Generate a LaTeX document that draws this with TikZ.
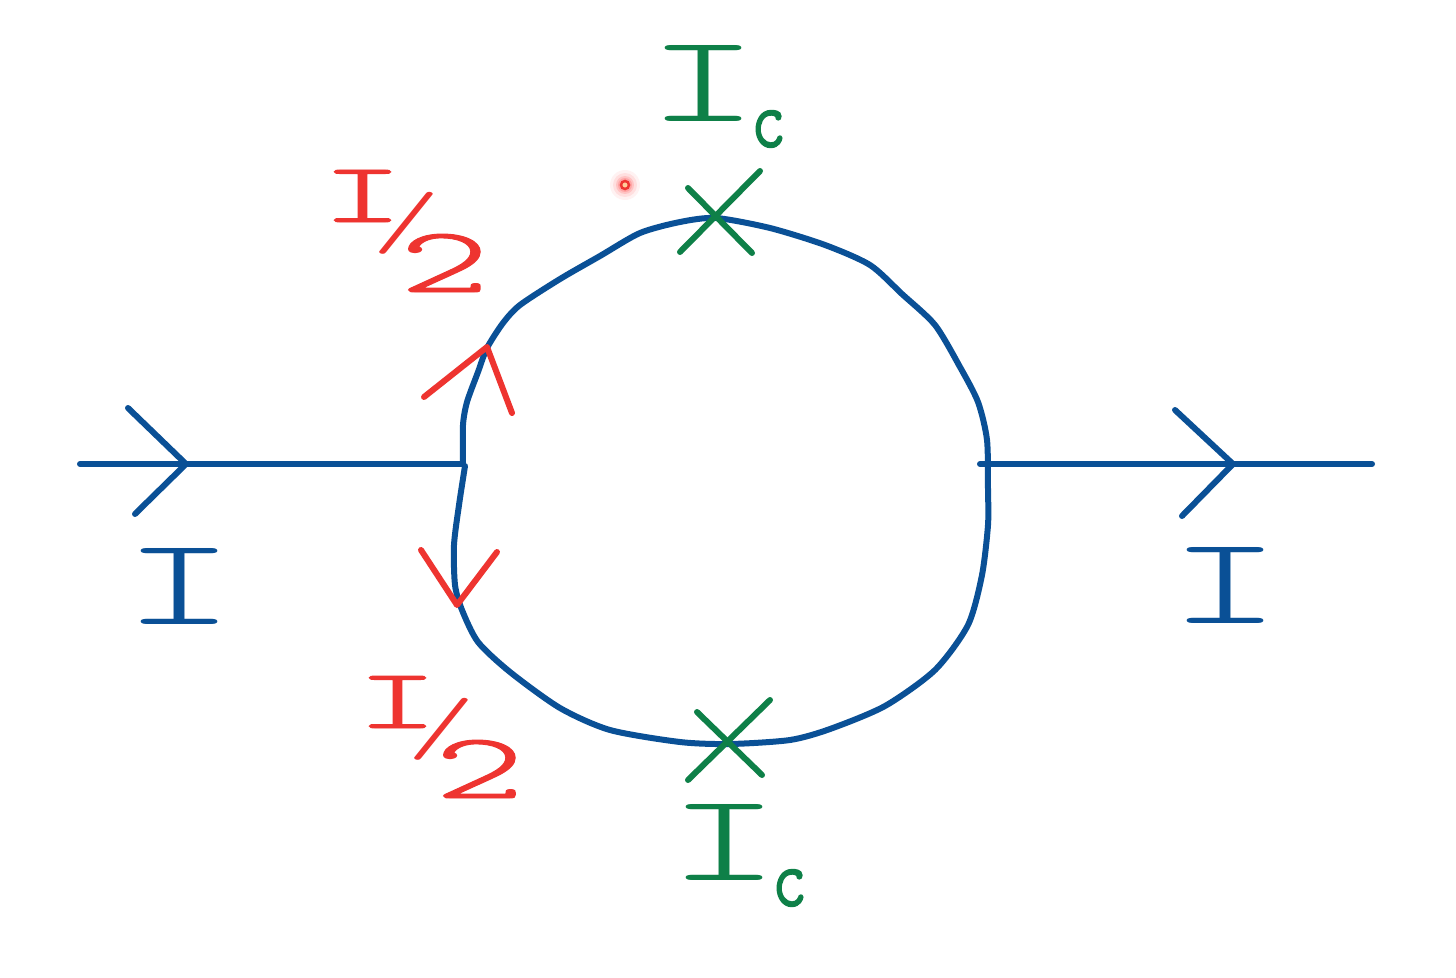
\documentclass[tikz,border=0pt]{standalone}
\usepackage{fontspec}
\setmainfont{Latin Modern Mono Light}
\newfontface\heavyglyph{Latin Modern Mono Light}[FakeBold=3]
\newfontface\midglyph{Latin Modern Mono Light}[FakeBold=1]
\definecolor{wire}{RGB}{10,80,150}
\definecolor{redink}{RGB}{238,52,48}
\definecolor{greenink}{RGB}{14,128,72}
% one glyph of a hand-lettered label: width, height, x offset, drop below baseline, glyph
\newcommand\hglyph[5]{\rlap{\kern#3pt\raisebox{-#4pt}{\resizebox{#1pt}{#2pt}{\raisebox{\depth}{#5}}}}}
\newcommand\halflabel{\hglyph{82}{52}{-12}{0}{\midglyph I}\hglyph{70}{62}{38}{32}{/}\hglyph{90}{58}{66}{70}{\midglyph 2}}
\newcommand\critlabel{\hglyph{112}{76}{-16}{0}{I}\hglyph{34}{36}{88}{26}{\heavyglyph c}}
\tikzset{
  ink/.style={line width=6pt,line cap=round,line join=round},
  wireink/.style={ink,draw=wire},
  redstroke/.style={ink,draw=redink},
  greenstroke/.style={ink,draw=greenink},
  lab/.style={anchor=base west,inner sep=0pt,outer sep=0pt,font=\fontsize{100}{100}\selectfont}
}
\begin{document}
\begin{tikzpicture}[x=1pt,y=-1pt]
\useasboundingbox (0,0) rectangle (1456,977);
\fill[white] (0,0) rectangle (1456,977);
% loop
\draw[wireink] plot[smooth,tension=0.45] coordinates {(463,463)(463,425)(467,402)(478,372)(487,348)(503,323)(520,305)(560,279)(600,256)(640,233)(680,222)(716,218)(770,228)(825,245)(870,265)(902,294)(935,325)(960,367)(978,402)(987,440)(988,490)(988,525)(982,575)(968,625)(935,670)(885,706)(830,729)(790,740)(730,744)(680,742)(610,730)(560,708)(510,672)(478,642)(462,610)(455,585)(454,545)(459,505)(465,466)};
% leads
\coordinate (inA) at (80,464); \coordinate (inB) at (463,464);
\coordinate (outA) at (980,464); \coordinate (outB) at (1372,464);
\draw[wireink] (inA) -- (inB);
\draw[wireink] (outA) -- (outB);
\draw[wireink] (128,408) -- (186,464) -- (135,514);
\draw[wireink] (1175,410) -- (1233,464) -- (1182,516);
% current arrows
\draw[redstroke] (424,397) -- (487,347) -- (512,413);
\draw[redstroke] (421,550) -- (457,605) -- (497,552);
% junctions
\draw[greenstroke] (680,252) -- (760,171);
\draw[greenstroke] (688,188) -- (752,253);
\draw[greenstroke] (688,780) -- (770,700);
\draw[greenstroke] (697,712) -- (762,775);
% labels
\node[lab,text=wire] (iin) at (139,624) {\hglyph{112}{76}{-16}{0}{I}};
\node[lab,text=wire] (iout) at (1185,623) {\hglyph{112}{76}{-16}{0}{I}};
\node[lab,text=greenink] (ctop) at (663,121) {\critlabel};
\node[lab,text=greenink] (cbot) at (684,880) {\critlabel};
\node[lab,text=redink] (htop) at (333,222) {\halflabel};
\node[lab,text=redink] (hbot) at (368,728) {\halflabel};
% pointer dot
\foreach \r/\o in {15/0.05,12/0.08,9/0.12,7/0.15}{\fill[red,opacity=\o] (625,185) circle (\r pt);}
\draw[draw=redink,line width=2.5pt,fill=orange!40!white] (625,185) circle (4pt);
\end{tikzpicture}
\end{document}
